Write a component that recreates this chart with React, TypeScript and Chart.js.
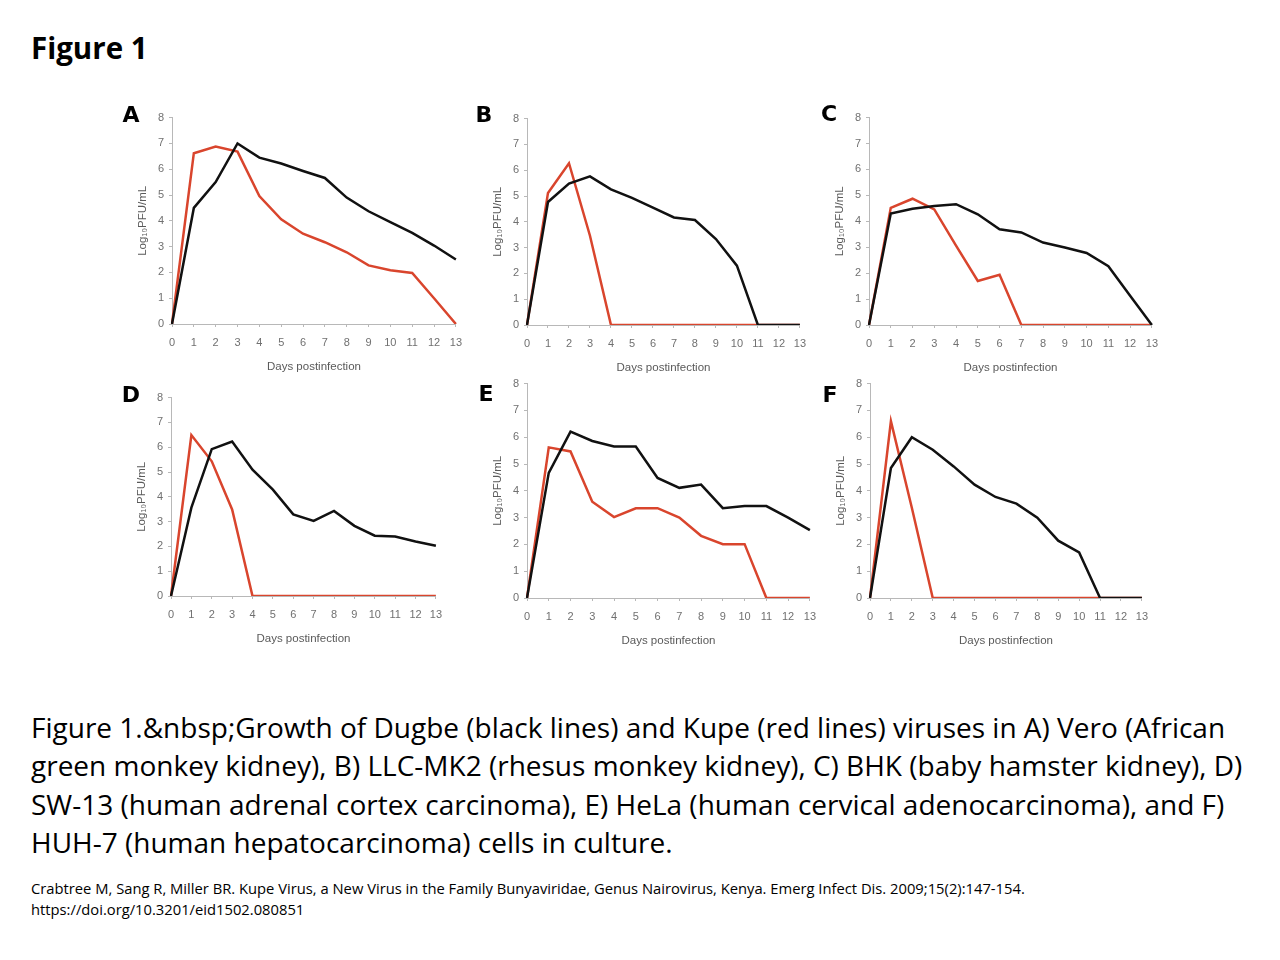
import React, { useEffect, useRef } from "react";
import { Chart, registerables } from "chart.js";

Chart.register(...registerables);

const days = ["0", "1", "2", "3", "4", "5", "6", "7", "8", "9", "10", "11", "12", "13"];
const yTicks = [0, 1, 2, 3, 4, 5, 6, 7, 8];

// Dugbe (black) and Kupe (red), log10 PFU/mL
const dugbeA = [0, 4.5, 5.5, 7.0, 6.45, 6.22, 5.93, 5.66, 4.9, 4.37, 3.95, 3.53, 3.04, 2.5];
const kupeA = [0, 6.62, 6.88, 6.68, 4.96, 4.06, 3.5, 3.17, 2.78, 2.27, 2.08, 1.98, 1.0, 0];
const dugbeB = [0, 4.77, 5.48, 5.76, 5.26, 4.93, 4.55, 4.17, 4.07, 3.33, 2.3, 0, 0, 0];
const kupeB = [0, 5.12, 6.27, 3.46, 0, 0, 0, 0, 0, 0, 0, 0, 0, 0];
const dugbeC = [0, 4.3, 4.48, 4.59, 4.66, 4.27, 3.69, 3.57, 3.18, 2.99, 2.78, 2.27, 1.13, 0];
const kupeC = [0, 4.52, 4.87, 4.46, 3.06, 1.7, 1.94, 0, 0, 0, 0, 0, 0, 0];
const dugbeD = [0, 3.56, 5.92, 6.23, 5.09, 4.29, 3.29, 3.03, 3.43, 2.83, 2.43, 2.4, 2.2, 2.03];
const kupeD = [0, 6.49, 5.43, 3.49, 0, 0, 0, 0, 0, 0, 0, 0, 0, 0];
const dugbeE = [0, 4.67, 6.21, 5.86, 5.65, 5.65, 4.48, 4.11, 4.23, 3.35, 3.43, 3.43, 3.0, 2.53];
const kupeE = [0, 5.62, 5.47, 3.59, 3.02, 3.35, 3.35, 3.0, 2.32, 2.01, 2.01, 0, 0, 0];
const dugbeF = [0, 4.85, 6.0, 5.53, 4.91, 4.23, 3.77, 3.52, 3.0, 2.14, 1.7, 0, 0, 0];
const kupeF = [0, 6.6, 3.37, 0, 0, 0, 0, 0, 0, 0, 0, 0, 0, 0];

const panelLetters = ["A", "B", "C", "D", "E", "F"];
const dugbeSeries = [dugbeA, dugbeB, dugbeC, dugbeD, dugbeE, dugbeF];
const kupeSeries = [kupeA, kupeB, kupeC, kupeD, kupeE, kupeF];

const xTitle = "Days postinfection";
const yTitle = "Log\u2081\u2080PFU/mL";

// plot-area boxes (layout only)
const plotBoxes = [
  { l: 172, r: 459, t: 116, b: 324, lx: 131, ly: 115 },
  { l: 527, r: 803, t: 117, b: 325, lx: 484, ly: 115 },
  { l: 869, r: 1155, t: 116, b: 325, lx: 829, ly: 114 },
  { l: 171, r: 439, t: 396, b: 596, lx: 131, ly: 395 },
  { l: 527, r: 813, t: 382, b: 598, lx: 486, ly: 394 },
  { l: 870, r: 1145, t: 382, b: 598, lx: 830, ly: 395 },
];

const Y_AXIS_W = 37;
const X_AXIS_H = 51;
const PAD_T = 10;
const PAD_R = 12;

const AXIS_COLOR = "#b8b8b8";
const TICK_COLOR = "#707070";
const TITLE_COLOR = "#5a5a5a";
const BLACK = "#111111";
const RED = "#d9452d";
const SMALL_FONT = "Liberation Sans";

function Panel({ idx }: { idx: number }) {
  const ref = useRef<HTMLCanvasElement | null>(null);
  const box = plotBoxes[idx];
  const w = box.r - box.l + Y_AXIS_W + PAD_R;
  const h = box.b - box.t + PAD_T + X_AXIS_H;

  useEffect(() => {
    if (!ref.current) return;
    const chart = new Chart(ref.current, {
      type: "line",
      data: {
        labels: days,
        datasets: [
          {
            label: "Dugbe",
            data: dugbeSeries[idx],
            borderColor: BLACK,
            borderWidth: 2.5,
            pointRadius: 0,
            tension: 0,
            fill: false,
          },
          {
            label: "Kupe",
            data: kupeSeries[idx],
            borderColor: RED,
            borderWidth: 2.5,
            pointRadius: 0,
            tension: 0,
            fill: false,
          },
        ],
      },
      options: {
        animation: false,
        responsive: false,
        maintainAspectRatio: false,
        layout: { padding: { top: PAD_T, right: PAD_R, left: 0, bottom: 0 } },
        plugins: { legend: { display: false }, tooltip: { enabled: false } },
        scales: {
          x: {
            type: "category",
            offset: false,
            grid: {
              display: true,
              drawOnChartArea: false,
              drawTicks: true,
              tickLength: 3,
              color: AXIS_COLOR,
            },
            border: { display: true, color: AXIS_COLOR, width: 1 },
            ticks: {
              color: TICK_COLOR,
              font: { size: 11, family: SMALL_FONT },
              padding: 9,
              maxRotation: 0,
              autoSkip: false,
            },
            title: {
              display: true,
              text: xTitle,
              color: TITLE_COLOR,
              font: { size: 11.5, family: SMALL_FONT },
              padding: { top: 0, bottom: 1 },
            },
            afterFit: (a: any) => {
              a.height = X_AXIS_H;
            },
          },
          y: {
            min: yTicks[0],
            max: yTicks[yTicks.length - 1],
            grid: {
              display: true,
              drawOnChartArea: false,
              drawTicks: true,
              tickLength: 3,
              color: AXIS_COLOR,
            },
            border: { display: true, color: AXIS_COLOR, width: 1 },
            ticks: {
              stepSize: 1,
              color: TICK_COLOR,
              font: { size: 11, family: SMALL_FONT },
              padding: 5,
            },
            title: {
              display: true,
              text: yTitle,
              color: TITLE_COLOR,
              font: { size: 11.5, family: SMALL_FONT },
              padding: { top: 1, bottom: 0 },
            },
            afterFit: (a: any) => {
              a.width = Y_AXIS_W;
            },
          },
        },
      } as any,
    });
    return () => chart.destroy();
  }, [idx]);

  return (
    <>
      <div
        style={{
          position: "absolute",
          left: box.l - Y_AXIS_W,
          top: box.t - PAD_T,
          width: w,
          height: h,
        }}
      >
        <canvas ref={ref} width={w} height={h} style={{ width: w, height: h, display: "block" }} />
      </div>
      <div
        style={{
          position: "absolute",
          left: box.lx,
          top: box.ly,
          transform: "translate(-50%, -50%)",
          fontFamily: "'DejaVu Sans', sans-serif",
          fontWeight: 900,
          fontSize: 22,
          lineHeight: "22px",
          color: "#000",
        }}
      >
        {panelLetters[idx]}
      </div>
    </>
  );
}

const captionLines = [
  "Figure 1.&nbsp;Growth of Dugbe (black lines) and Kupe (red lines) viruses in A) Vero (African",
  "green monkey kidney), B) LLC-MK2 (rhesus monkey kidney), C) BHK (baby hamster kidney), D)",
  "SW-13 (human adrenal cortex carcinoma), E) HeLa (human cervical adenocarcinoma), and F)",
  "HUH-7 (human hepatocarcinoma) cells in culture.",
];
const citationLines = [
  "Crabtree M, Sang R, Miller BR. Kupe Virus, a New Virus in the Family Bunyaviridae, Genus Nairovirus, Kenya. Emerg Infect Dis. 2009;15(2):147-154.",
  "https://doi.org/10.3201/eid1502.080851",
];

export default function App() {
  const textFont = "'Open Sans', Lato, sans-serif";
  return (
    <div
      style={{
        position: "absolute",
        left: 0,
        top: 0,
        width: 1280,
        height: 960,
        background: "#fff",
        overflow: "hidden",
      }}
    >
      <div
        style={{
          position: "absolute",
          left: 31,
          top: 47,
          transform: "translateY(-50%)",
          fontFamily: textFont,
          fontWeight: 700,
          fontSize: 29.5,
          color: "#000",
          whiteSpace: "nowrap",
        }}
      >
        Figure 1
      </div>
      {[0, 1, 2, 3, 4, 5].map((i) => (
        <Panel key={i} idx={i} />
      ))}
      {captionLines.map((line, i) => (
        <div
          key={i}
          style={{
            position: "absolute",
            left: 31,
            top: 727 + i * 38.3,
            transform: "translateY(-50%)",
            fontFamily: textFont,
            fontSize: 28,
            color: "#000",
            whiteSpace: "nowrap",
          }}
        >
          {line}
        </div>
      ))}
      {citationLines.map((line, i) => (
        <div
          key={"c" + i}
          style={{
            position: "absolute",
            left: 31,
            top: 888 + i * 21,
            transform: "translateY(-50%)",
            fontFamily: textFont,
            fontSize: 14.75,
            color: "#000",
            whiteSpace: "nowrap",
          }}
        >
          {line}
        </div>
      ))}
    </div>
  );
}
